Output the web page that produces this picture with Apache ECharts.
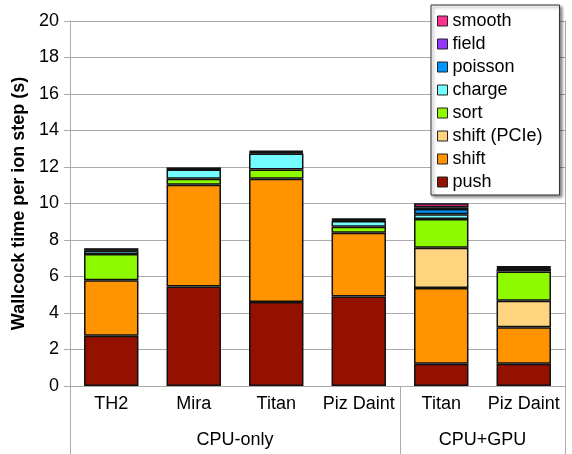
<!DOCTYPE html>
<html>
<head>
<meta charset="utf-8">
<script src="https://cdn.jsdelivr.net/npm/echarts@6/dist/echarts.min.js"></script>
<style>
  html, body { margin: 0; padding: 0; background: #fff; }
  #chart { width: 572px; height: 454px; }
</style>
</head>
<body>
<div id="chart"></div>
<script>
// machines (first row of x labels) and the grouping below them
const machines = ['TH2', 'Mira', 'Titan', 'Piz Daint', 'Titan', 'Piz Daint']
const groups = ['CPU-only', 'CPU+GPU']
const groupCenters = [2, 5]      // in category units, 0..6
const groupEdges = [0, 4, 6]

// seconds per ion step
const push      = [2.75, 5.45, 4.60, 4.90, 1.22, 1.22]
const shift     = [3.05, 5.58, 6.76, 3.50, 4.15, 2.00]
const shiftPCIe = [null, null, null, null, 2.20, 1.45]
const sort      = [1.43, 0.33, 0.50, 0.33, 1.58, 1.60]
const charge    = [0.20, 0.50, 0.88, 0.31, 0.26, 0.15]
const poisson   = [0.04, 0.04, 0.05, 0.05, 0.29, 0.06]
const field     = [0.03, 0.03, 0.05, 0.04, 0.09, 0.04]
const smooth    = [0.02, 0.01, 0.05, 0.04, 0.22, 0.03]

const yTicks = [0, 2, 4, 6, 8, 10, 12, 14, 16, 18, 20]

const stack = [
  { name: 'push',         data: push,      color: '#941100' },
  { name: 'shift',        data: shift,     color: '#FF9300' },
  { name: 'shift (PCIe)', data: shiftPCIe, color: '#FFD47F' },
  { name: 'sort',         data: sort,      color: '#8EFA00' },
  { name: 'charge',       data: charge,    color: '#73FDFF' },
  { name: 'poisson',      data: poisson,   color: '#0096FF' },
  { name: 'field',        data: field,     color: '#9437FF' },
  { name: 'smooth',       data: smooth,    color: '#FF2F92' }
]

const gray = '#ababab'
const font = 'Liberation Sans, Arial, sans-serif'
const fs = 18

const chart = echarts.init(document.getElementById('chart'))
chart.setOption({
  animation: false,
  textStyle: { fontFamily: font },
  grid: { left: 70, right: 7, top: 21, bottom: 68 },
  legend: {
    orient: 'vertical', left: 431, top: 5,
    data: stack.map(s => s.name).reverse(),
    itemWidth: 10, itemHeight: 10, itemGap: 5,
    padding: [7, 17, 4, 6],
    icon: 'rect',
    itemStyle: { borderColor: '#222', borderWidth: 1 },
    textStyle: { fontSize: fs, color: '#000' },
    backgroundColor: '#fff', borderColor: '#333', borderWidth: 1,
    shadowColor: 'rgba(0,0,0,0.45)', shadowBlur: 3, shadowOffsetX: 2, shadowOffsetY: 2
  },
  xAxis: [{
    type: 'category', data: machines,
    axisLine: { lineStyle: { color: gray } },
    axisTick: { length: 34, lineStyle: { color: gray } },
    axisLabel: { color: '#000', fontSize: fs, margin: 9, interval: 0 }
  }, {
    type: 'value', min: 0, max: 6, position: 'bottom',
    axisLine: { show: false },
    splitLine: { show: false },
    axisTick: { show: true, customValues: groupEdges, length: 68, lineStyle: { color: gray } },
    axisLabel: {
      customValues: groupCenters, color: '#000', fontSize: fs, margin: 45,
      formatter: v => groups[groupCenters.indexOf(v)]
    }
  }],
  yAxis: [{
    type: 'value', min: yTicks[0], max: yTicks[yTicks.length - 1], interval: 2,
    name: 'Wallcock time per ion step (s)', nameLocation: 'middle', nameGap: 38,
    nameTextStyle: { fontSize: fs, fontWeight: 'bold', color: '#000' },
    axisLine: { show: true, lineStyle: { color: gray } },
    axisTick: { show: true, length: 6, lineStyle: { color: gray } },
    axisLabel: { color: '#000', fontSize: fs, margin: 11 },
    splitLine: { lineStyle: { color: gray } }
  }, {
    type: 'value', min: 0, max: 20, position: 'right',
    axisLine: { show: true, lineStyle: { color: gray } },
    axisTick: { show: false }, axisLabel: { show: false }, splitLine: { show: false }
  }],
  series: stack.map(s => ({
    type: 'bar', name: s.name, data: s.data, stack: 'total',
    barWidth: '66%',
    itemStyle: { color: s.color, borderColor: '#111', borderWidth: 1.5 }
  }))
})
</script>
</body>
</html>
